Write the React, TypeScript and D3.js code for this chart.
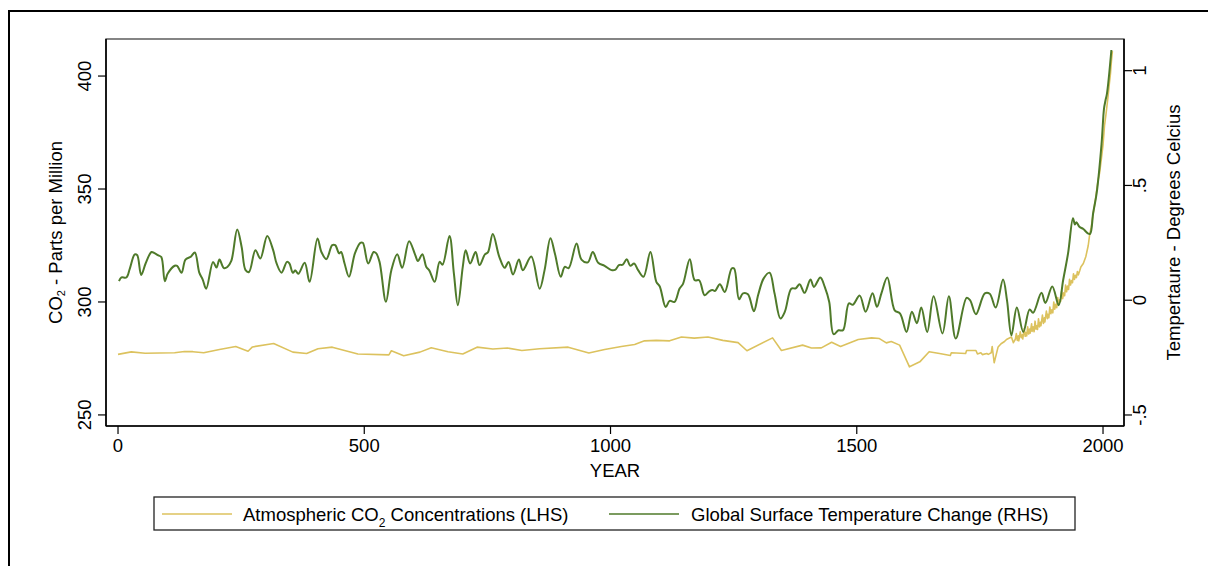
import React from 'react';
import * as d3 from 'd3';

// CO2 concentrations (ppm), left axis
const co2Years = [
  0, 27, 55, 115, 135, 152, 174, 206, 239, 264, 273, 316, 355, 383, 406, 435, 487, 550, 555, 580,
  613, 636, 670, 700, 729, 761, 791, 820, 856, 914, 956, 988, 1022, 1049, 1069, 1093, 1120, 1144,
  1170, 1198, 1228, 1259, 1277, 1329, 1347, 1390, 1408, 1428, 1449, 1467, 1503, 1530, 1546, 1560,
  1570, 1587, 1607, 1628, 1647, 1668, 1690, 1692, 1721, 1723, 1742, 1745, 1752, 1755, 1764, 1767,
  1773, 1775, 1779, 1787, 1793, 1800, 1804, 1814, 1818,
  1822, 1824, 1826, 1828, 1829, 1832, 1834, 1836, 1837, 1840, 1842, 1843, 1845, 1847, 1849, 1851,
  1852, 1855, 1856, 1858, 1860, 1862, 1864, 1865, 1867, 1869, 1871, 1873, 1874, 1877, 1879, 1881,
  1882, 1885, 1887, 1888, 1890, 1892, 1894, 1896, 1898, 1900, 1902, 1904, 1906, 1908, 1910, 1912,
  1914, 1916, 1918, 1920, 1922, 1924, 1926, 1928, 1930, 1932, 1934, 1936, 1938, 1940, 1942, 1944,
  1946, 1948, 1950, 1953, 1955, 1960, 1965,
  1970, 1973, 1976, 1980, 1985, 1990, 1993, 1997, 2000, 2003, 2006, 2010, 2013, 2015, 2017, 2019,
];
const co2Values = [
  276.8, 277.9, 277.3, 277.5, 278.1, 278.0, 277.5, 279.0, 280.3, 278.2, 280.1, 281.6, 277.8, 277.2,
  279.3, 280.0, 277.0, 276.6, 278.4, 276.2, 277.8, 279.7, 278.0, 277.0, 280.0, 279.2, 279.6, 278.5,
  279.3, 280.0, 277.4, 279.0, 280.3, 281.2, 282.8, 283.0, 282.8, 284.5, 284.0, 284.5, 283.0, 282.0,
  278.4, 284.1, 278.5, 280.9, 279.6, 279.7, 282.2, 280.3, 283.4, 284.1, 283.8, 281.9, 282.5, 280.9,
  271.3, 273.5, 278.0, 277.2, 276.3, 277.5, 277.2, 278.5, 278.5, 277.0, 277.5, 276.7, 277.2, 276.8,
  277.5, 280.3, 273.1, 280.1, 281.5, 282.5, 283.4, 284.5, 282.0,
  283.5, 286.0, 283.0, 285.0, 282.8, 286.8, 284.2, 285.5, 283.6, 288.2, 284.8, 286.5, 285.0, 289.0,
  285.8, 288.0, 286.2, 290.3, 287.0, 289.0, 286.8, 291.5, 288.0, 289.5, 287.8, 292.5, 289.0, 291.0,
  289.5, 294.2, 290.5, 293.0, 291.2, 296.0, 292.6, 294.5, 293.0, 297.8, 294.8, 296.5, 295.2, 300.0,
  296.8, 299.0, 297.5, 302.0, 299.0, 301.0, 300.2, 304.8, 301.5, 304.0, 302.8, 307.5, 304.5, 307.0,
  305.5, 310.0, 307.5, 309.5, 308.5, 312.5, 310.0, 311.8, 310.8, 313.5, 312.0, 314.0, 315.5, 317.0,
  320.0, 325.0, 330.0, 333.0, 339.0, 346.0, 354.0, 357.0, 364.0, 369.5, 378.0, 383.0, 390.5, 397.0,
  400.8, 406.5, 411.0,
];

// Temperature change (°C), right axis
const tempYears = [
  2, 7, 17, 24, 34, 39, 47, 56, 68, 74, 82, 88, 95, 101, 115, 120, 129, 137, 148, 156, 165, 172, 179,
  193, 200, 206, 215, 222, 230, 242, 251, 259, 266, 279, 289, 303, 315, 322, 332, 343, 348, 355, 360,
  366, 379, 389, 405, 413, 423, 435, 441, 449, 453, 460, 469, 481, 492, 497, 508, 519, 524, 531, 544,
  555, 567, 577, 591, 603, 609, 618, 626, 632, 643, 653, 659, 673, 682, 690, 700, 706, 715, 726, 734,
  745, 751, 761, 774, 785, 793, 802, 814, 822, 839, 856, 866, 878, 887, 899, 907, 915, 931, 941, 954,
  964, 975, 988, 1002, 1010, 1017, 1025, 1033, 1040, 1048, 1056, 1067, 1081, 1093, 1100, 1112, 1120,
  1130, 1140, 1147, 1161, 1171, 1180, 1191, 1201, 1207, 1212, 1222, 1232, 1246, 1251, 1261, 1269,
  1279, 1291, 1300, 1311, 1323, 1333, 1345, 1354, 1367, 1376, 1384, 1394, 1406, 1413, 1426, 1435,
  1444, 1453, 1463, 1472, 1484, 1492, 1506, 1518, 1532, 1541, 1550, 1562, 1577, 1588, 1601, 1612,
  1622, 1631, 1643, 1656, 1674, 1687, 1701, 1723, 1730, 1742, 1760, 1770, 1782, 1797, 1805, 1814,
  1825, 1838, 1851, 1858, 1875, 1883, 1897, 1910, 1919, 1929, 1939, 1943, 1946, 1952, 1960, 1970,
  1974, 1980, 1987, 1997, 2002, 2005, 2008, 2017,
];
const tempValues = [
  0.083, 0.099, 0.099, 0.138, 0.2, 0.196, 0.11, 0.16, 0.21, 0.205, 0.195, 0.188, 0.083, 0.116, 0.15,
  0.15, 0.12, 0.177, 0.19, 0.208, 0.12, 0.09, 0.05, 0.167, 0.142, 0.177, 0.14, 0.145, 0.171, 0.308,
  0.232, 0.131, 0.123, 0.218, 0.182, 0.28, 0.218, 0.16, 0.12, 0.167, 0.16, 0.12, 0.13, 0.115, 0.163,
  0.08, 0.269, 0.21, 0.179, 0.24, 0.24, 0.204, 0.21, 0.16, 0.102, 0.204, 0.25, 0.25, 0.16, 0.21,
  0.205, 0.167, -0.007, 0.131, 0.2, 0.141, 0.257, 0.2, 0.171, 0.2, 0.145, 0.13, 0.08, 0.167, 0.155,
  0.28, 0.116, -0.022, 0.145, 0.218, 0.16, 0.21, 0.153, 0.2, 0.208, 0.288, 0.19, 0.141, 0.167, 0.112,
  0.177, 0.131, 0.19, 0.05, 0.13, 0.27, 0.204, 0.102, 0.145, 0.14, 0.247, 0.177, 0.165, 0.21, 0.163,
  0.15, 0.131, 0.133, 0.153, 0.155, 0.179, 0.15, 0.16, 0.131, 0.102, 0.21, 0.08, 0.06, -0.03, -0.003,
  -0.007, 0.05, 0.07, 0.179, 0.087, 0.087, 0.022, 0.04, 0.045, 0.04, 0.07, 0.036, 0.138, 0.138, 0.004,
  0.03, 0.026, -0.048, 0.025, 0.095, 0.12, 0.03, -0.08, -0.05, 0.05, 0.052, 0.07, 0.032, 0.09, 0.058,
  0.099, 0.058, -0.007, -0.148, -0.131, -0.131, -0.014, -0.02, 0.02, -0.05, 0.03, -0.029, 0.03, 0.099,
  -0.044, -0.058, -0.138, -0.05, -0.1, -0.032, -0.138, 0.017, -0.145, 0.017, -0.167, 0.01, 0.0,
  -0.061, 0.03, 0.028, -0.032, 0.09, 0.0, -0.153, -0.032, -0.138, -0.04, -0.055, 0.032, -0.012, 0.06,
  -0.022, 0.087, 0.204, 0.357, 0.33, 0.34, 0.32, 0.31, 0.29, 0.29, 0.38, 0.465, 0.68, 0.835, 0.87,
  0.9, 1.09,
];

const xTicks = [0, 500, 1000, 1500, 2000];
const co2Ticks = [250, 300, 350, 400];
const tempTicks = [-0.5, 0, 0.5, 1];
const tempTickLabels = ['-.5', '0', '.5', '1'];

const W = 1208;
const H = 566;
const plot = { left: 106, right: 1124, top: 39, bottom: 426 };
const GREEN = '#4f7a2a';
const SAND = '#dcc25e';
const FONT = '"Liberation Sans", Arial, sans-serif';

export default function App() {
  const x = d3.scaleLinear().domain([-24.4, 2042.6]).range([plot.left, plot.right]);
  const yL = d3.scaleLinear().domain([245.1, 416.4]).range([plot.bottom, plot.top]);
  const yR = d3.scaleLinear().domain([-0.548, 1.138]).range([plot.bottom, plot.top]);

  const co2Line = d3
    .line<number>()
    .x((d, i) => x(co2Years[i]))
    .y((d) => yL(d))(co2Values);

  const tempLine = d3
    .line<number>()
    .curve(d3.curveCatmullRom.alpha(0.5))
    .x((d, i) => x(tempYears[i]))
    .y((d) => yR(d))(tempValues);

  const midY = (plot.top + plot.bottom) / 2;
  const midX = (plot.left + plot.right) / 2;

  return (
    <svg
      width={W}
      height={H}
      style={{ position: 'absolute', left: 0, top: 0, background: '#fff' }}
      fontFamily={FONT}
      fontSize={18.5}
    >
      {/* outer frame */}
      <line x1={8} x2={W} y1={11} y2={11} stroke="#000" strokeWidth={2} />
      <line x1={9} x2={9} y1={10} y2={H} stroke="#000" strokeWidth={2} />

      {/* plot region */}
      <rect
        x={plot.left}
        y={plot.top}
        width={plot.right - plot.left}
        height={plot.bottom - plot.top}
        fill="none"
        stroke="#444"
        strokeWidth={1.3}
      />

      <path d={co2Line || ''} fill="none" stroke={SAND} strokeWidth={1.6} strokeLinejoin="round" />
      <path d={tempLine || ''} fill="none" stroke={GREEN} strokeWidth={2} strokeLinejoin="round" />

      {/* axes lines */}
      <line x1={plot.left} x2={plot.left} y1={plot.top} y2={plot.bottom} stroke="#000" strokeWidth={1.6} />
      <line x1={plot.right} x2={plot.right} y1={plot.top} y2={plot.bottom} stroke="#000" strokeWidth={1.6} />
      <line x1={plot.left} x2={plot.right} y1={plot.bottom} y2={plot.bottom} stroke="#000" strokeWidth={1.6} />

      {/* left axis */}
      {co2Ticks.map((t) => (
        <g key={'l' + t}>
          <line x1={plot.left - 8} x2={plot.left} y1={yL(t)} y2={yL(t)} stroke="#000" strokeWidth={1.2} />
          <text
            x={91}
            y={yL(t)}
            textAnchor="middle"
            transform={`rotate(-90, 91, ${yL(t)})`}
          >
            {t}
          </text>
        </g>
      ))}
      <text x={62} y={midY} textAnchor="middle" transform={`rotate(-90, 62, ${midY})`}>
        CO<tspan fontSize={11} dy={3}>2</tspan>
        <tspan dy={-3}> - Parts per Million</tspan>
      </text>

      {/* right axis */}
      {tempTicks.map((t, i) => (
        <g key={'r' + t}>
          <line x1={plot.right} x2={plot.right + 8} y1={yR(t)} y2={yR(t)} stroke="#000" strokeWidth={1.2} />
          <text
            x={1146}
            y={yR(t)}
            textAnchor="middle"
            transform={`rotate(-90, 1146, ${yR(t)})`}
          >
            {tempTickLabels[i]}
          </text>
        </g>
      ))}
      <text x={1180} y={midY} textAnchor="middle" transform={`rotate(-90, 1180, ${midY})`}>
        Tempertaure - Degrees Celcius
      </text>

      {/* bottom axis */}
      {xTicks.map((t) => (
        <g key={'x' + t}>
          <line x1={x(t)} x2={x(t)} y1={plot.bottom} y2={plot.bottom + 8} stroke="#000" strokeWidth={1.2} />
          <text x={x(t)} y={452} textAnchor="middle">
            {t}
          </text>
        </g>
      ))}
      <text x={midX} y={477} textAnchor="middle">
        YEAR
      </text>

      {/* legend */}
      <rect x={154} y={497} width={921} height={33} fill="#fff" stroke="#222" strokeWidth={1.3} />
      <line x1={162} x2={232} y1={514} y2={514} stroke={SAND} strokeWidth={1.6} />
      <text x={243} y={521}>
        Atmospheric CO<tspan fontSize={12} dy={6}>2</tspan>
        <tspan dy={-6}> Concentrations (LHS)</tspan>
      </text>
      <line x1={609} x2={679} y1={514} y2={514} stroke={GREEN} strokeWidth={1.6} />
      <text x={691} y={521}>Global Surface Temperature Change (RHS)</text>
    </svg>
  );
}
